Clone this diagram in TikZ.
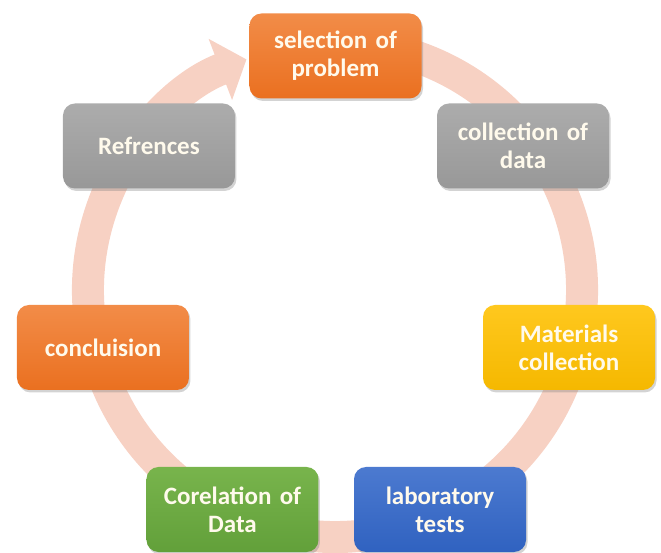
\documentclass[tikz,border=0pt]{standalone}
\usepackage{fontspec}
\setmainfont{Carlito}
\usepackage{xcolor}
\usepackage{tikz}
\usetikzlibrary{arrows.meta}
\usetikzlibrary{shadows}

\definecolor{ringpink}{RGB}{247,209,195}
\definecolor{orangetop}{RGB}{242,140,72}
\definecolor{orangebot}{RGB}{234,112,32}
\definecolor{graytop}{RGB}{172,172,172}
\definecolor{graybot}{RGB}{152,152,152}
\definecolor{yellowtop}{RGB}{255,200,30}
\definecolor{yellowbot}{RGB}{245,184,0}
\definecolor{greentop}{RGB}{120,180,76}
\definecolor{greenbot}{RGB}{98,160,58}
\definecolor{bluetop}{RGB}{76,122,208}
\definecolor{bluebot}{RGB}{48,98,192}
\definecolor{labeltext}{RGB}{255,250,236}

\begin{document}
\begin{tikzpicture}[
		x=1pt, y=1pt,
		stage/.style={rectangle, rounded corners=12pt, minimum width=172pt, minimum height=85pt, text width=164pt, align=center, text=labeltext, font=\fontsize{25}{28}\selectfont\bfseries, drop shadow={opacity=0.35, shadow xshift=1.5pt, shadow yshift=-2.5pt}},
		orangebox/.style={stage, top color=orangetop, bottom color=orangebot},
		graybox/.style={stage, top color=graytop, bottom color=graybot},
		yellowbox/.style={stage, top color=yellowtop, bottom color=yellowbot},
		greenbox/.style={stage, top color=greentop, bottom color=greenbot},
		bluebox/.style={stage, top color=bluetop, bottom color=bluebot},
		ring/.style={line width=32pt, draw=ringpink, -{Triangle[width=64pt, length=28pt]}}
		]
		
		\useasboundingbox (-335,-263) rectangle (326,290);
		
		% Cycle ring (clockwise, ending at the first step)
		\draw[ring] (75:247) arc[start angle=75, end angle=-249, radius=247];
		
		% Steps of the cycle
		\node[orangebox] (problem) at (0.5,234) {selection of\\problem};
		\node[graybox] (data) at (188,144) {collection of\\data};
		\node[yellowbox] (materials) at (234,-57.5) {Materials\\collection};
		\node[bluebox] (lab) at (105,-219.5) {laboratory\\tests};
		\node[greenbox] (corel) at (-102.5,-219.5) {Corelation of\\Data};
		\node[orangebox] (concl) at (-232,-57.5) {concluision};
		\node[graybox] (refs) at (-186,144) {Refrences};
		
	\end{tikzpicture}
\end{document}
